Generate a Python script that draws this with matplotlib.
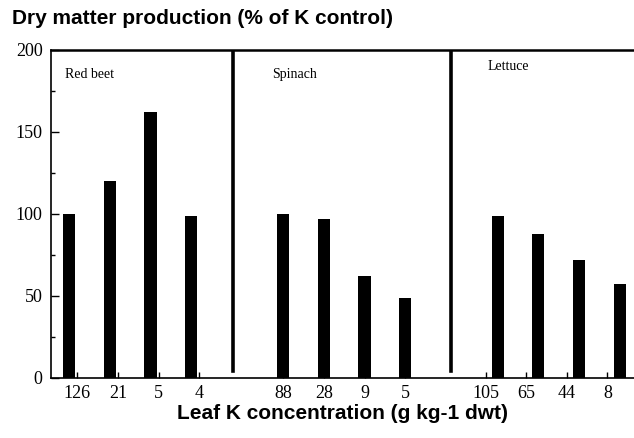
import matplotlib
matplotlib.use("Agg")
import matplotlib.pyplot as plt
from matplotlib.ticker import MultipleLocator

# dry matter production (% of K control) per crop, by leaf K concentration
crops = ["Red beet", "Spinach", "Lettuce"]
leaf_k = [["126", "21", "5", "4"], ["88", "28", "9", "5"], ["105", "65", "44", "8"]]
dry_matter = [[100, 120, 162, 99], [100, 97, 62, 49], [99, 88, 72, 57]]

group_start = [0.45, 5.72, 11.0]
label_shift = [0.2, 0.0, -0.3]
dividers = [4.48, 9.85]

serif = "Liberation Serif"
sans = "Liberation Sans"

fig = plt.figure(figsize=(6.34, 4.38), dpi=100)
ax = fig.add_axes([0.0804, 0.137, 0.92, 0.749])

tick_pos, tick_lab = [], []
for g, (name, ks, vals) in enumerate(zip(crops, leaf_k, dry_matter)):
    xs = [group_start[g] + i for i in range(len(vals))]
    ax.bar(xs, vals, width=0.3, color="black")
    tick_pos += [x + label_shift[g] for x in xs]
    tick_lab += ks

for d in dividers:
    ax.axvline(d, ymin=0.02, ymax=1, color="black", lw=2.6)

ax.text(0.35, 185, "Red beet", family=serif, fontsize=10, va="center")
ax.text(5.45, 185, "Spinach", family=serif, fontsize=10, va="center")
ax.text(10.75, 190, "Lettuce", family=serif, fontsize=10, va="center")

ax.set_xlim(0, 14.36)
ax.set_ylim(0, 200)
ax.set_xticks(tick_pos)
ax.set_xticklabels(tick_lab, family=serif, fontsize=13)
ax.set_yticks([0, 50, 100, 150, 200])
ax.set_yticklabels(["0", "50", "100", "150", "200"], family=serif, fontsize=13)
ax.yaxis.set_minor_locator(MultipleLocator(25))
ax.tick_params(axis="y", which="major", direction="in", length=6, width=1, pad=6)
ax.tick_params(axis="y", which="minor", direction="in", length=3, width=1)
ax.tick_params(axis="x", direction="in", length=4, width=1, pad=5)

ax.spines["right"].set_visible(False)
ax.spines["top"].set_linewidth(1.8)
ax.spines["left"].set_linewidth(1.2)
ax.spines["bottom"].set_linewidth(1.2)

fig.text(0.019, 0.958, "Dry matter production (% of K control)",
         family=sans, fontweight="bold", fontsize=15, va="center")
fig.text(0.54, 0.057, "Leaf K concentration (g kg-1 dwt)",
         family=sans, fontweight="bold", fontsize=15, ha="center", va="center")

fig.savefig("out.png", dpi=100)
plt.close(fig)
